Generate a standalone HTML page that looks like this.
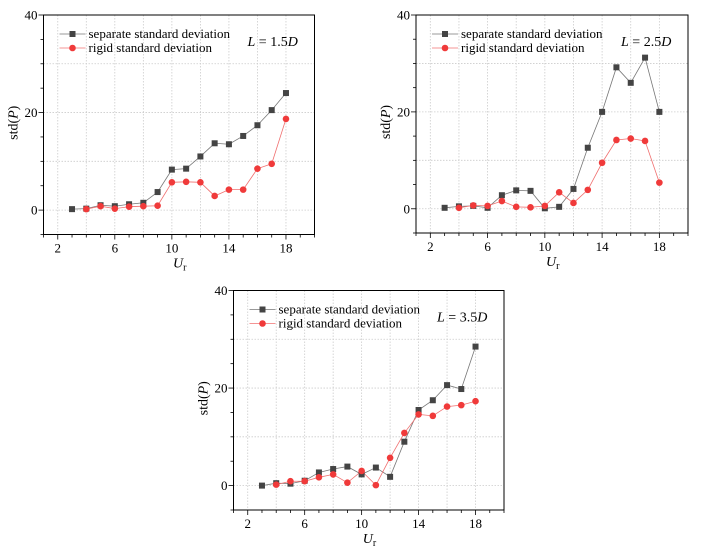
<!DOCTYPE html><html><head><style>body{margin:0;background:#fff}svg{font-family:"Liberation Serif",serif}</style></head><body>
<svg id="s" width="701" height="550" xmlns="http://www.w3.org/2000/svg"></svg>
<script>
const P=[
{l:43.5,t:15,r:314.5,b:234.5,x1:1,x2:20,lab:"1.5",
s:[0.2,0.3,1,0.8,1.2,1.5,3.7,8.3,8.5,11,13.7,13.5,15.2,17.4,20.5,24],
g:[0.2,0.8,0.3,0.7,0.8,0.9,5.7,5.8,5.7,2.9,4.2,4.2,8.5,9.5,18.7]},
{l:416,t:15,r:688,b:233,x1:1,x2:20,lab:"2.5",
s:[0.2,0.5,0.6,0.2,2.8,3.8,3.7,0.1,0.4,4.1,12.6,20,29.2,26,31.2,20],
g:[0.2,0.7,0.6,1.6,0.4,0.3,0.6,3.4,1.2,3.9,9.5,14.2,14.5,14,5.4]},
{l:233.5,t:290.5,r:504,b:510,x1:1,x2:20,lab:"3.5",
s:[0,0.5,0.4,1,2.7,3.4,3.9,2.3,3.7,1.8,9,15.5,17.5,20.6,19.8,28.5],
g:[0.2,0.9,0.9,1.7,2.3,0.6,3,0.1,5.7,10.8,14.6,14.3,16.2,16.5,17.3]}];
let h="";
for(const p of P){
 const X=v=>p.l+(v-p.x1)/(p.x2-p.x1)*(p.r-p.l), Y=v=>p.b-(v+5)/45*(p.b-p.t);
 for(let v=2;v<=18;v+=2)h+=`<line x1="${X(v)}" x2="${X(v)}" y1="${p.t}" y2="${p.b}" stroke="#ccc" stroke-width="0.8" stroke-dasharray="1.5,1.5"/>`;
 for(let v=0;v<=30;v+=10)h+=`<line x1="${p.l}" x2="${p.r}" y1="${Y(v)}" y2="${Y(v)}" stroke="#ccc" stroke-width="0.8" stroke-dasharray="1.5,1.5"/>`;
 h+=`<rect x="${p.l}" y="${p.t}" width="${p.r-p.l}" height="${p.b-p.t}" fill="none" stroke="#000" stroke-width="1"/>`;
 for(let v=1;v<=20;v++){const m=(v%4==2);h+=`<line x1="${X(v)}" x2="${X(v)}" y1="${p.b}" y2="${p.b+(m?5:3)}" stroke="#000" stroke-width="0.8"/>`;if(m)h+=`<text x="${X(v)}" y="${p.b+18}" font-size="13" text-anchor="middle">${v}</text>`;}
 for(let v=-5;v<=40;v+=5){const m=v%20==0;h+=`<line x1="${p.l}" x2="${p.l-(m?5:3)}" y1="${Y(v)}" y2="${Y(v)}" stroke="#000" stroke-width="0.8"/>`;if(m)h+=`<text x="${p.l-6}" y="${Y(v)+4.5}" font-size="13" text-anchor="end">${v}</text>`;}
 const sp=p.s.map((v,i)=>[X(i+3),Y(v)]), gp=p.g.map((v,i)=>[X(i+4),Y(v)]);
 h+=`<polyline points="${sp.join(" ")}" fill="none" stroke="#777" stroke-width="0.8"/>`;
 h+=`<polyline points="${gp.join(" ")}" fill="none" stroke="#f07070" stroke-width="0.8"/>`;
 for(const q of sp)h+=`<rect x="${q[0]-3}" y="${q[1]-3}" width="6" height="6" fill="#444"/>`;
 for(const q of gp)h+=`<circle cx="${q[0]}" cy="${q[1]}" r="3.3" fill="#f03a3a"/>`;
 const lx=p.l+16,ly=p.t+19;
 h+=`<line x1="${lx}" x2="${lx+26}" y1="${ly}" y2="${ly}" stroke="#777" stroke-width="0.8"/><rect x="${lx+10}" y="${ly-3}" width="6" height="6" fill="#444"/>`;
 h+=`<text x="${lx+29}" y="${ly+4}" font-size="13">separate standard deviation</text>`;
 h+=`<line x1="${lx}" x2="${lx+26}" y1="${ly+14}" y2="${ly+14}" stroke="#f07070" stroke-width="0.8"/><circle cx="${lx+13}" cy="${ly+14}" r="3.3" fill="#f03a3a"/>`;
 h+=`<text x="${lx+29}" y="${ly+18}" font-size="13">rigid standard deviation</text>`;
 h+=`<text x="${p.r-67}" y="${p.t+31}" font-size="14"><tspan font-style="italic">L</tspan> = ${p.lab}<tspan font-style="italic">D</tspan></text>`;
 h+=`<text x="${(p.l+p.r)/2-6}" y="${p.b+33}" font-size="14" font-style="italic">U<tspan font-size="10" font-style="normal" dy="3">r</tspan></text>`;
 const cy=(p.t+p.b)/2-2;
 h+=`<text transform="translate(${p.l-26},${cy}) rotate(-90)" font-size="14" text-anchor="middle">std(<tspan font-style="italic">P</tspan>)</text>`;
}
document.getElementById("s").innerHTML=h;
</script></body></html>
